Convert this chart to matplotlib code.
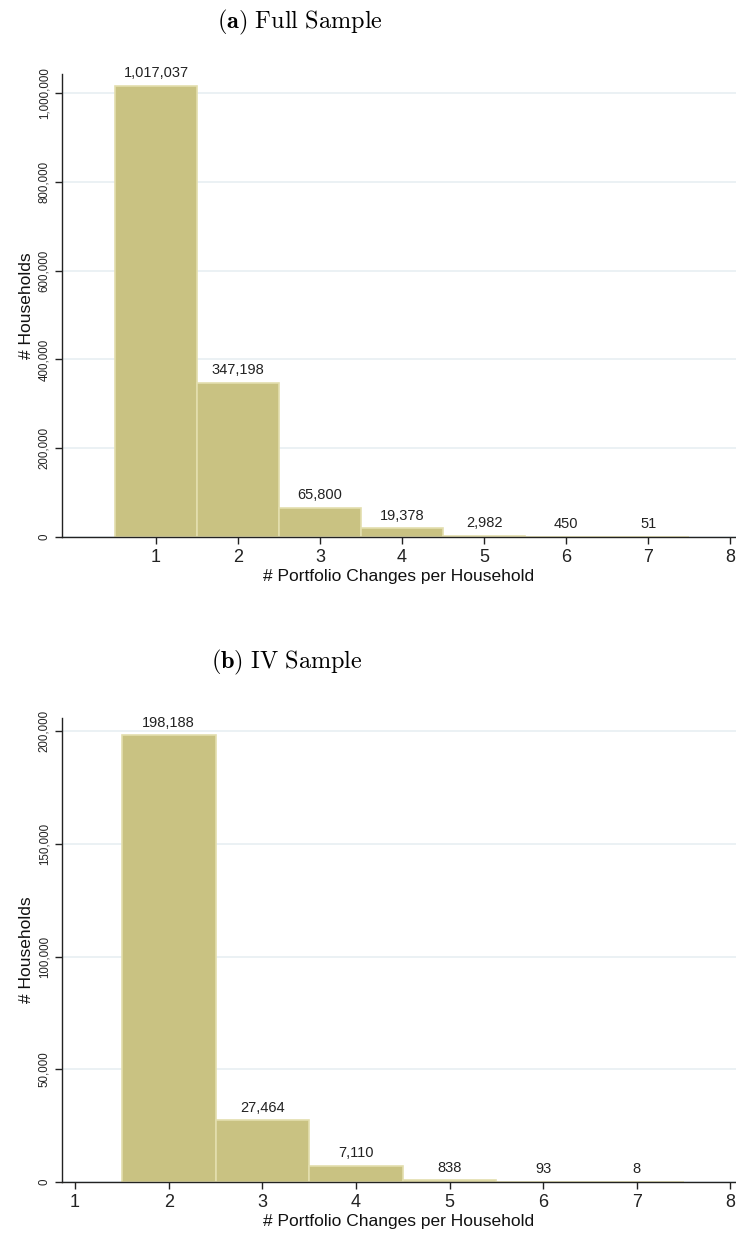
import matplotlib
matplotlib.use("Agg")
import matplotlib.pyplot as plt
from matplotlib.ticker import FuncFormatter

# Household counts by number of portfolio changes
full_changes = [1, 2, 3, 4, 5, 6, 7]
full_counts = [1017037, 347198, 65800, 19378, 2982, 450, 51]
full_yticks = [0, 200000, 400000, 600000, 800000, 1000000]

iv_changes = [2, 3, 4, 5, 6, 7]
iv_counts = [198188, 27464, 7110, 838, 93, 8]
iv_yticks = [0, 50000, 100000, 150000, 200000]

xticks = [1, 2, 3, 4, 5, 6, 7, 8]

plt.rcParams["mathtext.fontset"] = "cm"
plt.rcParams["font.family"] = ["Liberation Sans", "DejaVu Sans"]

BAR = "#C9C282"
EDGE = "#E3DEAE"
GRID = "#E6EEF1"

fig = plt.figure(figsize=(7.36, 12.35), dpi=100)


def panel(rect, xs, ys, yticks, xlim, ylim, title, title_xy):
    ax = fig.add_axes(rect)
    ax.bar(xs, ys, width=1.0, color=BAR, edgecolor=EDGE, linewidth=1.2, zorder=2)
    for x, y in zip(xs, ys):
        ax.annotate(f"{y:,}", (x, y), xytext=(0, 4), textcoords="offset points",
                    ha="center", va="bottom", fontsize=10.5, color="#222222")
    ax.set_xlim(*xlim)
    ax.set_ylim(*ylim)
    ax.set_xticks(xticks)
    ax.set_yticks(yticks)
    ax.yaxis.set_major_formatter(FuncFormatter(lambda v, p: f"{int(v):,}"))
    ax.tick_params(axis="x", labelsize=13, length=5, width=1, colors="#222222")
    ax.tick_params(axis="y", labelsize=8.3, length=5, width=1, colors="#222222",
                   labelrotation=90)
    for lab in ax.get_yticklabels():
        lab.set_va("center")
    ax.grid(axis="y", color=GRID, linewidth=1.1, zorder=0)
    ax.set_axisbelow(True)
    for s in ("top", "right"):
        ax.spines[s].set_visible(False)
    for s in ("left", "bottom"):
        ax.spines[s].set_color("#222222")
        ax.spines[s].set_linewidth(1.0)
    ax.set_xlabel("# Portfolio Changes per Household", fontsize=12.5, labelpad=2,
                  color="#111111")
    ax.set_ylabel("# Households", fontsize=12.5, labelpad=3, color="#111111")
    fig.text(title_xy[0], title_xy[1], title, ha="center", va="center",
             fontsize=17.5)
    return ax


panel([62 / 736, 53 / 1235 + 645 / 1235, 674 / 736, 463 / 1235],
      full_changes, full_counts, full_yticks,
      (-0.146, 8.07), (0, 1043000),
      r"$\mathbf{(a)}\ \mathrm{Full\ Sample}$", (300 / 736, 1 - 22 / 1235))

panel([62 / 736, 53 / 1235, 674 / 736, 464 / 1235],
      iv_changes, iv_counts, iv_yticks,
      (0.86, 8.06), (0, 205800),
      r"$\mathbf{(b)}\ \mathrm{IV\ Sample}$", (287 / 736, 1 - 662 / 1235))

fig.savefig("out.png", dpi=100)
